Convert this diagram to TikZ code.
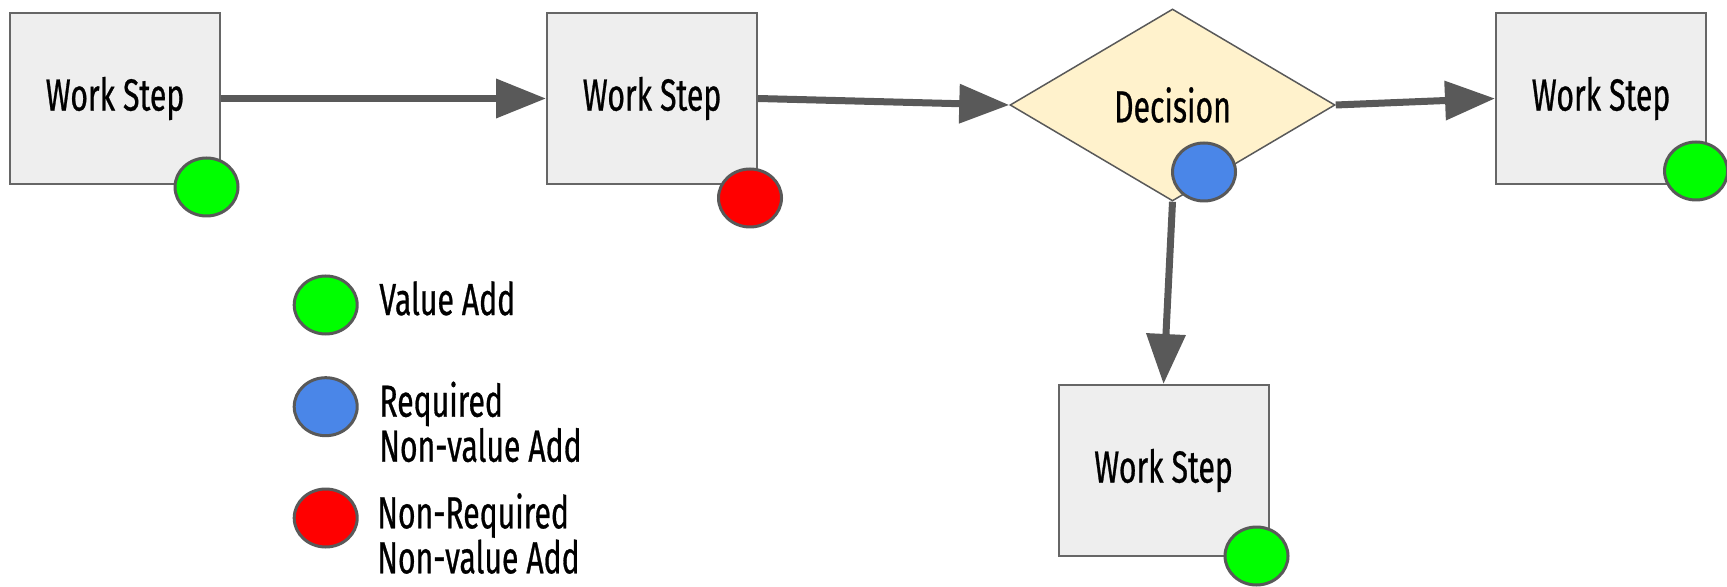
\documentclass[tikz,border=0pt]{standalone}
\usepackage{fontspec}
\setmainfont{Fira Sans}[FakeStretch=0.67,FakeBold=0.6]
\usetikzlibrary{arrows.meta,shapes.geometric}
\definecolor{boxfill}{HTML}{EEEEEE}
\definecolor{boxline}{HTML}{666666}
\definecolor{arr}{HTML}{595959}
\definecolor{decfill}{HTML}{FFF2CC}
\definecolor{vgreen}{HTML}{00FF00}
\definecolor{vred}{HTML}{FF0000}
\definecolor{vblue}{HTML}{4A86E8}
\pgfdeclarelayer{bg}
\pgfsetlayers{bg,main}
\begin{document}
\begin{tikzpicture}[x=0.5pt,y=-0.5pt,
  every node/.style={font=\fontsize{22.5}{22.5}\selectfont},
  stepbox/.style={draw=boxline, fill=boxfill, line width=1pt, minimum width=105pt, minimum height=85.5pt, inner sep=0pt},
  decbox/.style={diamond, draw=arr, fill=decfill, line width=0.75pt, minimum width=162.5pt, minimum height=96pt, inner sep=0pt},
  dot/.style={ellipse, draw=arr, line width=1.5pt, minimum width=31.5pt, minimum height=29pt, inner sep=0pt},
  flow/.style={draw=arr, line width=3.5pt, -{Triangle[length=25pt,width=19pt]}},
  legtext/.style={anchor=base west, align=left, inner sep=0pt}
]
\useasboundingbox (0,0) rectangle (1727,587);

\node[stepbox] (s1) at (115,98.5) {Work Step};
\node[stepbox] (s2) at (652,98.5) {Work Step};
\node[decbox] (d) at (1172.5,105) {Decision};
\node[stepbox] (s3) at (1601,98.5) {Work Step};
\node[stepbox] (s4) at (1163.5,470.5) {Work Step};

\begin{pgfonlayer}{bg}
\draw[flow] (s1.east) -- (s2.west);
\draw[flow] (s2.east) -- (d.west);
\draw[flow] (d.east) -- (s3.west);
\draw[flow] (d.south) -- (s4.north);
\end{pgfonlayer}

\node[dot, fill=vgreen] (c1) at (206.5,187) {};
\node[dot, fill=vred] (c2) at (750,198) {};
\node[dot, fill=vblue] (c3) at (1204,172) {};
\node[dot, fill=vgreen] (c4) at (1696,171) {};
\node[dot, fill=vgreen] (c5) at (1256.5,556) {};

\node[dot, fill=vgreen] (lg) at (325.7,305) {};
\node[legtext] (lgt) at (379,315) {Value Add};
\node[dot, fill=vblue] (lb) at (325.7,406.7) {};
\node[legtext] (lbt) at (379,461.7) {Required\\Non-value Add};
\node[dot, fill=vred] (lr) at (325.7,518) {};
\node[legtext] (lrt) at (377,573.3) {Non-Required\\Non-value Add};
\end{tikzpicture}
\end{document}
